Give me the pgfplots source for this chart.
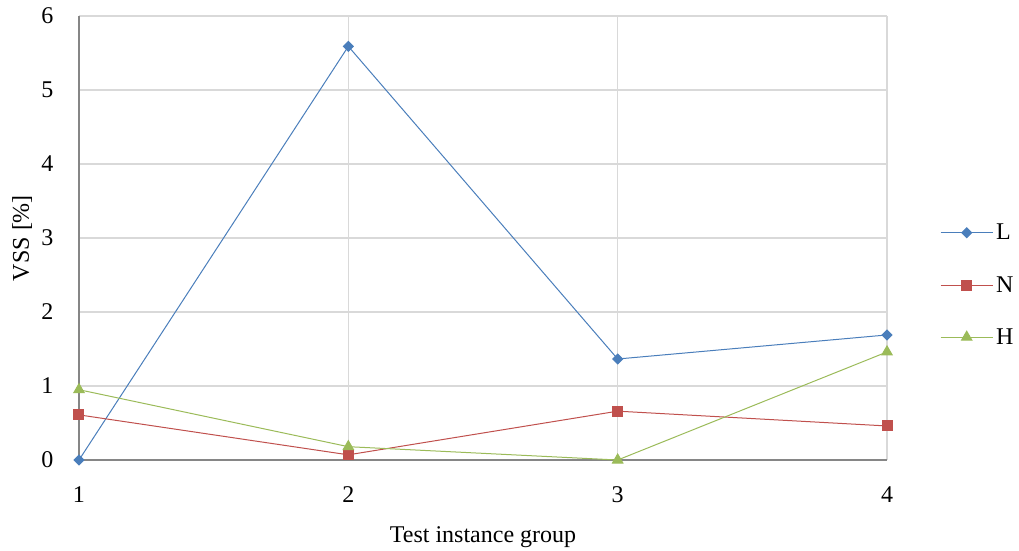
\documentclass[border=0pt]{standalone}
\usepackage{pgfplots}
\pgfplotsset{compat=1.18}
\usepackage{fontspec}
\setmainfont{Liberation Serif}
\definecolor{cL}{HTML}{4A7EBB}
\definecolor{cN}{HTML}{C0504D}
\definecolor{cH}{HTML}{9BBB59}
\definecolor{gridc}{HTML}{D9D9D9}
\definecolor{axc}{HTML}{868686}
\begin{document}
\begin{tikzpicture}
\useasboundingbox (-79pt,-90pt) rectangle (940pt,460pt);
\begin{axis}[
  scale only axis,
  width=808pt, height=444pt,
  xmin=1, xmax=4, ymin=0, ymax=6,
  xtick={1,2,3,4}, ytick={0,1,2,3,4,5,6},
  major tick length=0pt,
  axis x line*=bottom, axis y line*=left,
  axis line style={axc, line width=1.3pt},
  grid=major,
  major grid style={gridc, line width=1.3pt},
  every axis plot/.append style={line width=1pt},
  /pgf/number format/assume math mode=true,
  tick label style={font=\fontsize{24}{28}\selectfont, black},
  xticklabel style={anchor=center, yshift=-35pt},
  yticklabel style={anchor=east, xshift=-22pt},
  xlabel={Test instance group},
  ylabel={VSS [\%]},
  label style={font=\fontsize{24}{28}\selectfont},
  xlabel style={at={(axis description cs:0.5,-0.1734)}, anchor=center},
  ylabel style={at={(axis description cs:-0.0705,0.5)}, anchor=center, rotate=0},
  legend style={at={(1,0.5)}, anchor=west, xshift=53pt, yshift=-47pt, draw=none, fill=none,
    font=\fontsize{24}{28}\selectfont, row sep=31pt, inner sep=0pt,
    nodes={inner xsep=3pt}},
  legend cell align=left,
  legend image code/.code={\draw[#1] (0pt,0pt) -- (52pt,0pt); \draw[#1] plot coordinates {(26pt,0pt)};},
  clip=false,
]
\addplot[cL, mark=square*, mark size=3.5pt, mark options={solid, fill=cL, rotate=45}] coordinates {(1,0) (2,5.59) (3,1.365) (4,1.69)};
\addlegendentry{L}
\addplot[cN, mark=square*, mark size=5pt, mark options={solid, fill=cN}] coordinates {(1,0.61) (2,0.07) (3,0.66) (4,0.46)};
\addlegendentry{N}
\addplot[cH, mark=triangle*, mark size=6pt, mark options={solid, fill=cH}] coordinates {(1,0.95) (2,0.18) (3,0) (4,1.46)};
\addlegendentry{H}
\end{axis}
\end{tikzpicture}
\end{document}
